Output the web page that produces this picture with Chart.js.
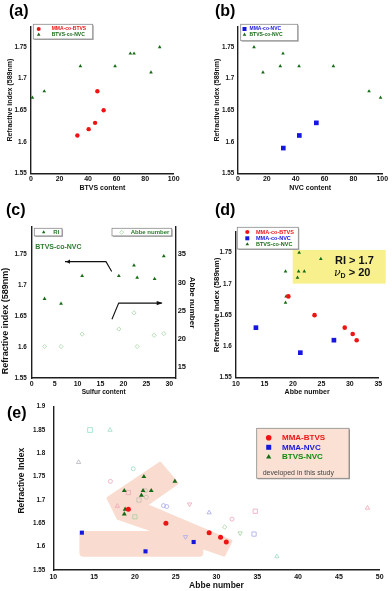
<!DOCTYPE html>
<html><head><meta charset="utf-8">
<script src="https://cdn.jsdelivr.net/npm/chart.js@4.4.0/dist/chart.umd.min.js"></script>
<style>
html,body{margin:0;padding:0;background:#fff;}
#wrap{position:relative;width:392px;height:591px;overflow:hidden;background:#fff;}
canvas{position:absolute;}
.pl{position:absolute;z-index:5;font:bold 16px/16px 'Liberation Sans',Arial,sans-serif;color:#000;white-space:nowrap;}
</style></head><body>
<div id="wrap">
<canvas id="ca"></canvas><canvas id="cb"></canvas><canvas id="cc"></canvas><canvas id="cd"></canvas><canvas id="ce"></canvas>
<div class="pl" style="left:9px;top:3px">(a)</div>
<div class="pl" style="left:215px;top:3px">(b)</div>
<div class="pl" style="left:6px;top:202px">(c)</div>
<div class="pl" style="left:215px;top:202px">(d)</div>
<div class="pl" style="left:7px;top:405px">(e)</div>
</div>
<script>
// ---------------- data ----------------
// (a) refractive index vs BTVS content
const aMmaBtvsContent = [32.5, 40.4, 44.9, 46.5, 50.9];
const aMmaBtvsRI      = [1.61, 1.62, 1.63, 1.68, 1.65];
const aBtvsNvcContent = [1.0, 9.3, 34.6, 58.9, 69.6, 72.2, 84.1, 90.2];
const aBtvsNvcRI      = [1.67, 1.68, 1.72, 1.72, 1.74, 1.74, 1.71, 1.75];
// (b) refractive index vs NVC content
const bMmaNvcContent  = [31.4, 42.5, 54.3];
const bMmaNvcRI       = [1.59, 1.61, 1.63];
const bBtvsNvcContent = [11.1, 17.3, 29.3, 31.2, 42.3, 66.1, 90.8, 98.8];
const bBtvsNvcRI      = [1.75, 1.71, 1.72, 1.74, 1.72, 1.72, 1.68, 1.67];
// (c) BTVS-co-NVC vs sulfur content
const cSulfur     = [2.8, 6.4, 11.0, 19.0, 22.3, 23.0, 26.8, 28.8];
const cRI         = [1.678, 1.670, 1.715, 1.715, 1.732, 1.712, 1.710, 1.747];
const cAbbeSulfur = [2.8, 6.4, 11.0, 19.0, 22.3, 23.0, 26.7, 28.8];
const cAbbe       = [18.6, 18.6, 20.8, 21.7, 24.6, 18.6, 20.6, 20.9];
// (d)/(e) copolymers developed in this study: Abbe number vs RI
const mmaBtvsAbbe = [19.2, 23.8, 29.1, 30.5, 31.2];
const mmaBtvsRI   = [1.68, 1.65, 1.63, 1.62, 1.61];
const mmaNvcAbbe  = [13.5, 21.3, 27.2];
const mmaNvcRI    = [1.63, 1.59, 1.61];
const btvsNvcAbbe = [21.1, 24.9, 18.7, 21.0, 22.0, 20.8, 18.8, 18.7];
const btvsNvcRI   = [1.75, 1.74, 1.72, 1.72, 1.72, 1.71, 1.68, 1.67];
// (e) literature polymers (open markers)
const litTealSqAbbe = [14.5];            const litTealSqRI = [1.85];
const litTealTriAbbe = [16.95, 37.4];    const litTealTriRI = [1.85, 1.579];
const litTealCircAbbe = [19.8];          const litTealCircRI = [1.767];
const litGrayTriAbbe = [13.1];           const litGrayTriRI = [1.781];
const litGrayCircAbbe = [21.3, 21.4];    const litGrayCircRI = [1.72, 1.706];
const litGraySqAbbe = [20.5];            const litGraySqRI = [1.70];
const litPinkCircAbbe = [17.0, 31.9];    const litPinkCircRI = [1.74, 1.659];
const litPinkSqAbbe = [19.2, 34.75];     const litPinkSqRI = [1.716, 1.676];
const litPinkTriAbbe = [17.85, 48.5];    const litPinkTriRI = [1.687, 1.683];
const litPinkTriDownAbbe = [26.7];       const litPinkTriDownRI = [1.691];
const litLavCircAbbe = [23.5, 23.9];     const litLavCircRI = [1.688, 1.686];
const litLavTriAbbe = [29.1];            const litLavTriRI = [1.673];
const litLavSqAbbe = [34.6];             const litLavSqRI = [1.627];
const litLavTriDownAbbe = [26.2];        const litLavTriDownRI = [1.621];
const litLgSqAbbe = [20.0];              const litLgSqRI = [1.664];
const litLgDiaAbbe = [31.0];             const litLgDiaRI = [1.642];
const litLgTriDownAbbe = [32.9];         const litLgTriDownRI = [1.629];
// tick values
const riTicks = [1.55, 1.6, 1.65, 1.7, 1.75];
const riTicksE = [1.55, 1.6, 1.65, 1.7, 1.75, 1.8, 1.85, 1.9];
const contentTicks = [0, 20, 40, 60, 80, 100];
const sulfurTicks = [0, 5, 10, 15, 20, 25, 30];
const abbeRightTicks = [15, 20, 25, 30, 35];
const abbeTicksD = [10, 15, 20, 25, 30, 35];
const abbeTicksE = [10, 15, 20, 25, 30, 35, 40, 45, 50];

// ---------------- styling / helpers ----------------
const FONT = "'Liberation Sans', Arial, Helvetica, sans-serif";
const RED = '#ee1414', BLUE = '#1616e0', GREEN = '#176b17', TXTGREEN = '#2a7d2a';
const LGREEN = '#a6d6a6', TEAL = '#9cdcc6', GRAY = '#b4b4bc', GRAYC = '#c2bcb0', PINK = '#f0a4b6', LAV = '#a8a8ea', LG2 = '#a4d2a0';
const PEACH = '#f9dccf';

function lay(box, area, o) {
  const yLH = o.yfs * 1.2, xLH = o.xfs * 1.2;
  const yLeft = o.yc - yLH / 2;
  const xBottom = o.xc + xLH / 2;
  let right = area.R, rw = 0;
  if (o.rc) { right = o.rc + o.rfs * 1.2 / 2; rw = right - area.R; }
  return {
    padding: { left: yLeft - box.x, top: area.T - box.y, right: box.x + box.w - right, bottom: box.y + box.h - xBottom },
    yw: area.L - yLeft, xh: xBottom - area.B, rw
  };
}
function linScale(o) {
  return {
    type: 'linear', position: o.pos, min: o.min, max: o.max,
    afterBuildTicks: s => { s.ticks = o.ticks.map(v => ({ value: v })); },
    afterFit: s => {
      if (o.pos === 'bottom') s.height = o.size; else s.width = o.size;
      s.paddingLeft = 0; s.paddingRight = 0; s.paddingTop = 0; s.paddingBottom = 0;
    },
    grid: { display: false, drawTicks: false },
    border: { display: true, color: '#1e1e1e', width: 1.4 },
    ticks: { autoSkip: false, maxRotation: 0, padding: o.tpad, color: '#111',
      font: { family: FONT, size: o.tfs, weight: 'bold' },
      callback: v => String(+(+v).toFixed(2)) },
    title: { display: !!o.title, text: o.title || '', color: '#111', padding: 0,
      font: { family: FONT, size: o.titleFs || 7, weight: 'bold' } }
  };
}
function pts(xs, ys) { return xs.map((x, i) => ({ x: x, y: ys[i] })); }
function filled(label, xs, ys, style, color, r, extra) {
  return Object.assign({ label, data: pts(xs, ys), pointStyle: style, pointRadius: r,
    backgroundColor: color, borderColor: color, borderWidth: 0, clip: false }, extra || {});
}
function hollow(label, xs, ys, style, color, r, extra) {
  return Object.assign({ label, data: pts(xs, ys), pointStyle: style, pointRadius: r,
    backgroundColor: 'rgba(255,255,255,0)', borderColor: color, borderWidth: 0.8, clip: false }, extra || {});
}
function marker(ctx, style, x, y, r, color, open) {
  ctx.save(); ctx.beginPath();
  if (style === 'circle') ctx.arc(x, y, r, 0, Math.PI * 2);
  else if (style === 'rect') ctx.rect(x - r, y - r, 2 * r, 2 * r);
  else if (style === 'triangle') { ctx.moveTo(x, y - r); ctx.lineTo(x + 0.866 * r, y + 0.5 * r); ctx.lineTo(x - 0.866 * r, y + 0.5 * r); }
  else if (style === 'rectRot') { ctx.moveTo(x - r, y); ctx.lineTo(x, y - r); ctx.lineTo(x + r, y); ctx.lineTo(x, y + r); }
  ctx.closePath();
  if (open) { ctx.strokeStyle = color; ctx.lineWidth = 0.8; ctx.stroke(); }
  else { ctx.fillStyle = color; ctx.fill(); }
  ctx.restore();
}
function drawLegend(ctx, box, s) {
  ctx.save(); ctx.translate(-box.x, -box.y);
  const [x1, y1, x2, y2] = s.rect;
  ctx.fillStyle = s.shadow || '#aaa'; ctx.fillRect(x1 + 1, y1 + 1, x2 - x1, y2 - y1);
  ctx.fillStyle = s.fill || '#fff'; ctx.fillRect(x1, y1, x2 - x1, y2 - y1);
  ctx.strokeStyle = s.border || '#8a8a8a'; ctx.lineWidth = 0.8; ctx.strokeRect(x1, y1, x2 - x1, y2 - y1);
  ctx.textBaseline = 'middle'; ctx.textAlign = 'left';
  s.rows.forEach(r => {
    if (r.style) marker(ctx, r.style, s.mx, r.y, r.r, r.color, r.open);
    ctx.fillStyle = r.textColor; ctx.font = r.font || s.font;
    ctx.fillText(r.text, r.tx != null ? r.tx : s.tx, r.y);
  });
  ctx.restore();
}
function pageText(ctx, box, text, x, y, font, color, rot) {
  ctx.save(); ctx.translate(x - box.x, y - box.y); if (rot) ctx.rotate(rot);
  ctx.font = font; ctx.fillStyle = color; ctx.textAlign = 'center'; ctx.textBaseline = 'middle';
  ctx.fillText(text, 0, 0); ctx.restore();
}
function mkChart(id, box, L, scales, datasets, plugin) {
  const cv = document.getElementById(id);
  cv.width = box.w; cv.height = box.h;
  cv.style.left = box.x + 'px'; cv.style.top = box.y + 'px';
  cv.style.width = box.w + 'px'; cv.style.height = box.h + 'px';
  return new Chart(cv.getContext('2d'), {
    type: 'scatter', data: { datasets },
    options: { responsive: false, animation: false, devicePixelRatio: 1, events: [],
      layout: { padding: L.padding },
      plugins: { legend: { display: false }, tooltip: { enabled: false } },
      scales },
    plugins: [plugin]
  });
}

// ---------------- (a) ----------------
const boxA = { x: 0, y: 0, w: 196, h: 199 };
const LA = lay(boxA, { L: 31, R: 173.7, T: 27, B: 173.3 }, { yc: 10.3, yfs: 7, xc: 188.3, xfs: 7 });
mkChart('ca', boxA, LA, {
  x: linScale({ pos: 'bottom', min: 0, max: 100, ticks: contentTicks, size: LA.xh, tpad: 2, tfs: 7, title: 'BTVS content', titleFs: 7 }),
  y: linScale({ pos: 'left', min: 1.55, max: 1.782, ticks: riTicks, size: LA.yw, tpad: 4.3, tfs: 6.3, title: 'Refractive index (589nm)', titleFs: 7 })
}, [
  filled('MMA-co-BTVS', aMmaBtvsContent, aMmaBtvsRI, 'circle', RED, 2.2),
  filled('BTVS-co-NVC', aBtvsNvcContent, aBtvsNvcRI, 'triangle', GREEN, 2.1)
], { id: 'annA', afterDatasetsDraw(chart) {
  drawLegend(chart.ctx, boxA, { rect: [33.3, 24.3, 92.7, 39], mx: 38.7, tx: 51.7, font: `bold 5px ${FONT}`,
    rows: [{ style: 'circle', color: RED, r: 2, text: 'MMA-co-BTVS', textColor: RED, y: 29 },
           { style: 'triangle', color: GREEN, r: 2.1, text: 'BTVS-co-NVC', textColor: GREEN, y: 34.7 }] });
} });

// ---------------- (b) ----------------
const boxB = { x: 196, y: 0, w: 196, h: 199 };
const LB = lay(boxB, { L: 238, R: 382.3, T: 27, B: 173.3 }, { yc: 216.7, yfs: 7, xc: 188.3, xfs: 7 });
mkChart('cb', boxB, LB, {
  x: linScale({ pos: 'bottom', min: 0, max: 100, ticks: contentTicks, size: LB.xh, tpad: 2, tfs: 7, title: 'NVC content', titleFs: 7 }),
  y: linScale({ pos: 'left', min: 1.55, max: 1.782, ticks: riTicks, size: LB.yw, tpad: 3.7, tfs: 6.3, title: 'Refractive index (589nm)', titleFs: 7 })
}, [
  filled('MMA-co-NVC', bMmaNvcContent, bMmaNvcRI, 'rect', BLUE, 3.3),
  filled('BTVS-co-NVC', bBtvsNvcContent, bBtvsNvcRI, 'triangle', GREEN, 2.1)
], { id: 'annB', afterDatasetsDraw(chart) {
  drawLegend(chart.ctx, boxB, { rect: [240.7, 24.3, 297.7, 40.7], mx: 244.5, tx: 249.5, font: `bold 5px ${FONT}`,
    rows: [{ style: 'rect', color: BLUE, r: 2, text: 'MMA-co-NVC', textColor: BLUE, y: 29 },
           { style: 'triangle', color: GREEN, r: 2.1, text: 'BTVS-co-NVC', textColor: GREEN, y: 34.7 }] });
} });

// ---------------- (c) ----------------
const boxC = { x: 0, y: 199, w: 198, h: 200 };
const LC = lay(boxC, { L: 31.7, R: 175.7, T: 227, B: 378 }, { yc: 5.8, yfs: 9, xc: 392.3, xfs: 6.5, rc: 192.7, rfs: 8 });
const arrowsC = [
  [[17.44, 1.722], [16.2, 1.738], [7.26, 1.738]],
  [[17.5, 1.645], [18.97, 1.671], [28.34, 1.671]]
];
mkChart('cc', boxC, LC, {
  x: linScale({ pos: 'bottom', min: 0, max: 31.4, ticks: sulfurTicks, size: LC.xh, tpad: 2, tfs: 7, title: 'Sulfur content', titleFs: 6.5 }),
  y: linScale({ pos: 'left', min: 1.55, max: 1.794, ticks: riTicks, size: LC.yw, tpad: 5, tfs: 6.3 }),
  y2: linScale({ pos: 'right', min: 13.0, max: 39.87, ticks: abbeRightTicks, size: LC.rw, tpad: 2, tfs: 7.5, title: 'Abbe number', titleFs: 8 })
}, [
  filled('RI', cSulfur, cRI, 'triangle', GREEN, 2.2),
  hollow('Abbe number', cAbbeSulfur, cAbbe, 'rectRot', LGREEN, 2.1, { yAxisID: 'y2' })
], { id: 'annC', afterDatasetsDraw(chart) {
  const ctx = chart.ctx, sx = chart.scales.x, sy = chart.scales.y;
  ctx.save(); ctx.strokeStyle = '#111'; ctx.fillStyle = '#111'; ctx.lineWidth = 1.1;
  arrowsC.forEach(a => {
    const p = a.map(q => [sx.getPixelForValue(q[0]), sy.getPixelForValue(q[1])]);
    ctx.beginPath(); ctx.moveTo(p[0][0], p[0][1]);
    for (let i = 1; i < p.length; i++) ctx.lineTo(p[i][0], p[i][1]);
    ctx.stroke();
    const [x, y] = p[p.length - 1], [px, py] = p[p.length - 2];
    const ang = Math.atan2(y - py, x - px), h = 5, w = 2.2;
    ctx.beginPath(); ctx.moveTo(x + 1, y);
    ctx.lineTo(x - h * Math.cos(ang) + w * Math.sin(ang), y - h * Math.sin(ang) - w * Math.cos(ang));
    ctx.lineTo(x - h * Math.cos(ang) - w * Math.sin(ang), y - h * Math.sin(ang) + w * Math.cos(ang));
    ctx.closePath(); ctx.fill();
  });
  ctx.restore();
  drawLegend(ctx, boxC, { rect: [34.3, 228.3, 62, 235.9], mx: 43.7, tx: 53.3, font: `bold 6px ${FONT}`,
    rows: [{ style: 'triangle', color: GREEN, r: 2, text: 'RI', textColor: TXTGREEN, y: 232.3 }] });
  drawLegend(ctx, boxC, { rect: [112, 228.3, 171.7, 235.9], mx: 121.7, tx: 130.7, font: `bold 6px ${FONT}`,
    rows: [{ style: 'rectRot', color: LGREEN, open: true, r: 2, text: 'Abbe number', textColor: TXTGREEN, y: 232.3 }] });
  ctx.save(); ctx.translate(-boxC.x, -boxC.y);
  ctx.font = `bold 7px ${FONT}`; ctx.fillStyle = TXTGREEN; ctx.textAlign = 'left'; ctx.textBaseline = 'middle';
  ctx.fillText('BTVS-co-NVC', 35.3, 247.3);
  ctx.restore();
  pageText(ctx, boxC, 'Refractive index (589nm)', 5.8, 321, `bold 9px ${FONT}`, '#111', -Math.PI / 2);
} });

// ---------------- (d) ----------------
const boxD = { x: 198, y: 199, w: 194, h: 200 };
const LD = lay(boxD, { L: 236, R: 378.3, T: 232, B: 377.7 }, { yc: 216.7, yfs: 8, xc: 391.7, xfs: 7 });
const targetBox = { x1: 19.96, x2: 36.3, y1: 1.7004, y2: 1.7543 };
mkChart('cd', boxD, LD, {
  x: linScale({ pos: 'bottom', min: 10, max: 35, ticks: abbeTicksD, size: LD.xh, tpad: 2, tfs: 7, title: 'Abbe number', titleFs: 7 }),
  y: linScale({ pos: 'left', min: 1.55, max: 1.783, ticks: riTicks, size: LD.yw, tpad: 4.3, tfs: 6.3, title: 'Refractive index (589nm)', titleFs: 8 })
}, [
  filled('MMA-co-BTVS', mmaBtvsAbbe, mmaBtvsRI, 'circle', RED, 2.3),
  filled('MMA-co-NVC', mmaNvcAbbe, mmaNvcRI, 'rect', BLUE, 3.3),
  filled('BTVS-co-NVC', btvsNvcAbbe, btvsNvcRI, 'triangle', GREEN, 2.1)
], { id: 'annD',
  beforeDatasetsDraw(chart) {
    const ctx = chart.ctx, sx = chart.scales.x, sy = chart.scales.y;
    const x1 = sx.getPixelForValue(targetBox.x1), x2 = sx.getPixelForValue(targetBox.x2);
    const y1 = sy.getPixelForValue(targetBox.y2), y2 = sy.getPixelForValue(targetBox.y1);
    ctx.save(); ctx.fillStyle = '#f7f08c'; ctx.fillRect(x1, y1, x2 - x1, y2 - y1);
    ctx.fillStyle = '#111'; ctx.textAlign = 'left'; ctx.textBaseline = 'middle';
    ctx.font = `bold 11px ${FONT}`;
    ctx.fillText('RI > 1.7', sx.getPixelForValue(27.4), sy.getPixelForValue(1.737));
    const tx = sx.getPixelForValue(27.2), ty = sy.getPixelForValue(1.717);
    ctx.font = `italic 11px 'DejaVu Serif', serif`;
    ctx.fillText('ν', tx, ty);
    const w1 = ctx.measureText('ν').width;
    ctx.font = `bold 7px ${FONT}`;
    ctx.fillText('D', tx + w1, ty + 3);
    const w2 = ctx.measureText('D').width;
    ctx.font = `bold 11px ${FONT}`;
    ctx.fillText(' > 20', tx + w1 + w2, ty);
    ctx.restore();
  },
  afterDatasetsDraw(chart) {
    drawLegend(chart.ctx, boxD, { rect: [237.3, 227.3, 298.3, 249], mx: 247.3, tx: 256, font: `bold 5.5px ${FONT}`,
      rows: [{ style: 'circle', color: RED, r: 2.1, text: 'MMA-co-BTVS', textColor: RED, y: 232 },
             { style: 'rect', color: BLUE, r: 2, text: 'MMA-co-NVC', textColor: BLUE, y: 238.3 },
             { style: 'triangle', color: GREEN, r: 2.1, text: 'BTVS-co-NVC', textColor: GREEN, y: 244.3 }] });
  } });

// ---------------- (e) ----------------
const boxE = { x: 0, y: 399, w: 392, h: 192 };
const LE = lay(boxE, { L: 53.3, R: 379.7, T: 406.7, B: 570 }, { yc: 21.7, yfs: 8.5, xc: 585.7, xfs: 8.5 });
const chevron = [[16.70, 1.704], [23.08, 1.779], [25.16, 1.736], [21.36, 1.689], [31.78, 1.612], [30.92, 1.582], [17.93, 1.661]];
const bandRect = { x1: 13.2, x2: 28.38, y1: 1.5786, y2: 1.6336 };
mkChart('ce', boxE, LE, {
  x: linScale({ pos: 'bottom', min: 10, max: 50, ticks: abbeTicksE, size: LE.xh, tpad: 2.5, tfs: 7, title: 'Abbe number', titleFs: 8.5 }),
  y: linScale({ pos: 'left', min: 1.55, max: 1.9, ticks: riTicksE, size: LE.yw, tpad: 8, tfs: 6.3 })
}, [
  filled('MMA-BTVS', mmaBtvsAbbe, mmaBtvsRI, 'circle', RED, 2.5),
  filled('MMA-NVC', mmaNvcAbbe, mmaNvcRI, 'rect', BLUE, 2.9),
  filled('BTVS-NVC', btvsNvcAbbe, btvsNvcRI, 'triangle', GREEN, 2.8),
  hollow('lit1', litTealSqAbbe, litTealSqRI, 'rect', TEAL, 3.4),
  hollow('lit2', litTealTriAbbe, litTealTriRI, 'triangle', TEAL, 2.5),
  hollow('lit3', litTealCircAbbe, litTealCircRI, 'circle', TEAL, 2),
  hollow('lit4', litGrayTriAbbe, litGrayTriRI, 'triangle', GRAY, 2.5),
  hollow('lit5', litGrayCircAbbe, litGrayCircRI, 'circle', GRAYC, 2),
  hollow('lit6', litGraySqAbbe, litGraySqRI, 'rect', GRAYC, 3),
  hollow('lit7', litPinkCircAbbe, litPinkCircRI, 'circle', PINK, 2),
  hollow('lit8', litPinkSqAbbe, litPinkSqRI, 'rect', PINK, 3),
  hollow('lit9', litPinkTriAbbe, litPinkTriRI, 'triangle', PINK, 2.5),
  hollow('lit10', litPinkTriDownAbbe, litPinkTriDownRI, 'triangle', PINK, 2.5, { pointRotation: 180 }),
  hollow('lit11', litLavCircAbbe, litLavCircRI, 'circle', LAV, 2),
  hollow('lit12', litLavTriAbbe, litLavTriRI, 'triangle', LAV, 2.5),
  hollow('lit13', litLavSqAbbe, litLavSqRI, 'rect', LAV, 3),
  hollow('lit14', litLavTriDownAbbe, litLavTriDownRI, 'triangle', LAV, 2.5, { pointRotation: 180 }),
  hollow('lit15', litLgSqAbbe, litLgSqRI, 'rect', LG2, 3),
  hollow('lit16', litLgDiaAbbe, litLgDiaRI, 'rectRot', LG2, 2.2),
  hollow('lit17', litLgTriDownAbbe, litLgTriDownRI, 'triangle', LG2, 2.5, { pointRotation: 180 })
], { id: 'annE',
  beforeDatasetsDraw(chart) {
    const ctx = chart.ctx, sx = chart.scales.x, sy = chart.scales.y;
    ctx.save(); ctx.fillStyle = PEACH; ctx.strokeStyle = PEACH; ctx.lineJoin = 'round'; ctx.lineWidth = 3;
    ctx.beginPath();
    chevron.forEach((p, i) => { const X = sx.getPixelForValue(p[0]), Y = sy.getPixelForValue(p[1]); if (i) ctx.lineTo(X, Y); else ctx.moveTo(X, Y); });
    ctx.closePath(); ctx.fill(); ctx.stroke();
    const x1 = sx.getPixelForValue(bandRect.x1), x2 = sx.getPixelForValue(bandRect.x2);
    const y1 = sy.getPixelForValue(bandRect.y2), y2 = sy.getPixelForValue(bandRect.y1);
    ctx.beginPath(); ctx.roundRect(x1, y1, x2 - x1, y2 - y1, 4); ctx.fill();
    ctx.restore();
  },
  afterDatasetsDraw(chart) {
    const ctx = chart.ctx;
    drawLegend(ctx, boxE, { rect: [256.7, 428.3, 349, 478.3], fill: '#fbe0d4', border: '#8a8a8a', shadow: '#9a9a9a', mx: 268.7, tx: 282, font: `bold 8px ${FONT}`,
      rows: [{ style: 'circle', color: RED, r: 2.8, text: 'MMA-BTVS', textColor: RED, y: 437.7 },
             { style: 'rect', color: BLUE, r: 2.5, text: 'MMA-NVC', textColor: BLUE, y: 447.3 },
             { style: 'triangle', color: GREEN, r: 3, text: 'BTVS-NVC', textColor: '#128a12', y: 457 },
             { text: 'developed in this study', tx: 262.7, y: 473, font: `7px ${FONT}`, textColor: '#444' }] });
    pageText(ctx, boxE, 'Refractive Index', 21.7, 480.7, `bold 8.5px ${FONT}`, '#111', -Math.PI / 2);
  } });
</script>
</body></html>
